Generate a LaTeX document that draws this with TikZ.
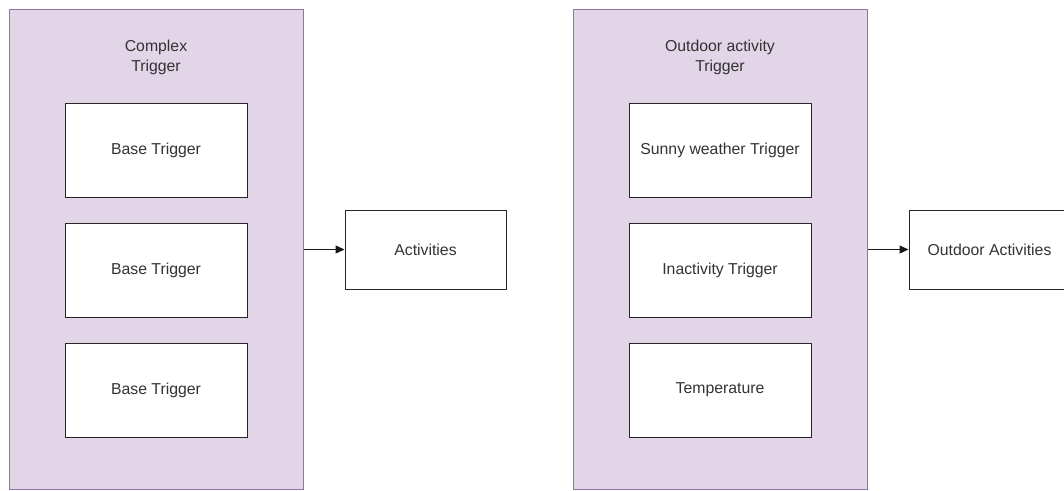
\documentclass[tikz,border=0pt]{standalone}
\usepackage{fontspec}
\setmainfont{Liberation Sans}
\usetikzlibrary{arrows.meta}
\definecolor{groupfill}{HTML}{E1D5E7}
\definecolor{groupline}{HTML}{9673A6}
\definecolor{inkgray}{HTML}{333333}
\tikzset{
  group/.style={draw=groupline, fill=groupfill, line width=1pt, minimum width=294pt, minimum height=480pt, inner sep=0pt},
  grouptitle/.style={text=inkgray, align=center, font=\fontsize{15.8}{20}\selectfont},
  cell/.style={draw=black!85, fill=white, line width=1pt, minimum width=182pt, minimum height=94pt, inner sep=0pt, text=inkgray, font=\fontsize{15.8}{19}\selectfont},
  target/.style={draw=black!85, fill=white, line width=1pt, minimum width=161pt, minimum height=79pt, inner sep=0pt, text=inkgray, font=\fontsize{15.8}{19}\selectfont},
  link/.style={draw=black!90, line width=1.3pt, -{Triangle[length=9pt,width=8pt]}}
}
\begin{document}
\begin{tikzpicture}[x=1pt,y=-1pt]
\useasboundingbox (0,0) rectangle (1064,490);
\clip (0,0) rectangle (1064,490);

% left group: complex trigger
\node[group] (cg) at (156,249) {};
\node[grouptitle] (cgt) at (156,57) {Complex\\Trigger};
\node[cell] (b1) at (156,150) {Base Trigger};
\node[cell] (b2) at (156,270) {Base Trigger};
\node[cell] (b3) at (156,390) {Base Trigger};
\node[target] (act) at (425.5,249.5) {Activities};

% right group: outdoor activity trigger
\node[group] (og) at (720,249) {};
\node[grouptitle] (ogt) at (720,57) {Outdoor activity\\Trigger};
\node[cell] (s1) at (720,150) {Sunny weather Trigger};
\node[cell] (s2) at (720,270) {Inactivity Trigger};
\node[cell] (s3) at (720,390) {Temperature};
\node[target] (oact) at (989.5,249.5) {Outdoor Activities};

% connectors
\draw[link] (cg.east |- act.west) -- (act.west);
\draw[link] (og.east |- oact.west) -- (oact.west);
\end{tikzpicture}
\end{document}
